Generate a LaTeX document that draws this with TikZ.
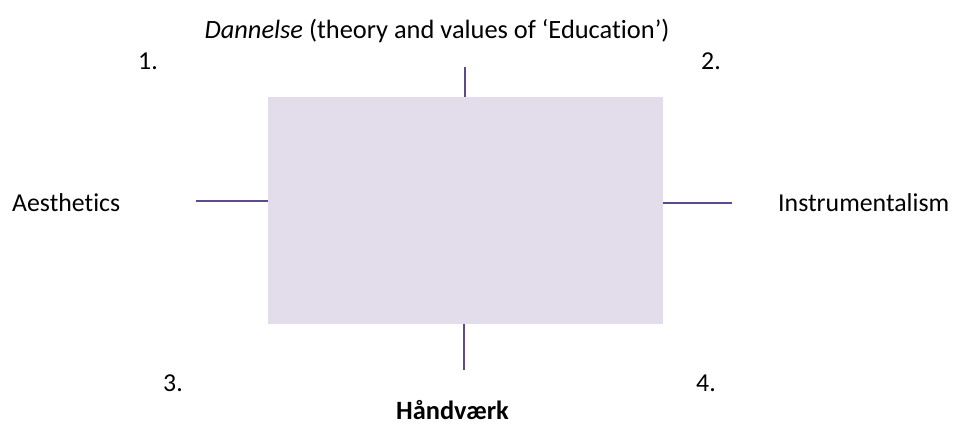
\documentclass[tikz,border=0pt]{standalone}
\usepackage{fontspec}
\setmainfont{Carlito}[Ligatures={NoCommon}]
\begin{document}
\begin{tikzpicture}[x=1pt,y=-1pt,
  lbl/.style={inner sep=0pt, font=\fontsize{25.8}{30}\selectfont},
  tick/.style={draw=tickc, line width=2pt},
  ]
\definecolor{boxc}{HTML}{E3DDEB}
\definecolor{tickc}{HTML}{5F4B8B}
\useasboundingbox (0,0) rectangle (958,424);
\node[fill=boxc, inner sep=0pt, minimum width=395pt, minimum height=227pt, anchor=north west] (box) at (268,97) {};
\coordinate (t) at (465,67);
\coordinate (l) at (196,201);
\coordinate (r) at (732,203);
\coordinate (b) at (464,370);
\draw[tick] (t) -- (t |- box.north);
\draw[tick] (l) -- (l -| box.west);
\draw[tick] (r) -- (r -| box.east);
\draw[tick] (b) -- (b |- box.south);
\node[lbl, font=\fontsize{26.4}{30}\selectfont] (title) at (437,31) {\textit{Dannelse} (theory and values of ‘Education’)};
\node[lbl] (n1) at (148,61) {1.};
\node[lbl] (n2) at (711,61) {2.};
\node[lbl] (n3) at (173,383) {3.};
\node[lbl] (n4) at (706,383) {4.};
\node[lbl, anchor=west] (aes) at (12,203) {Aesthetics};
\node[lbl, anchor=west] (ins) at (778,203) {Instrumentalism};
\node[lbl, font=\fontsize{26.4}{30}\selectfont\bfseries] (hand) at (452.5,410) {Håndværk};
\end{tikzpicture}
\end{document}
